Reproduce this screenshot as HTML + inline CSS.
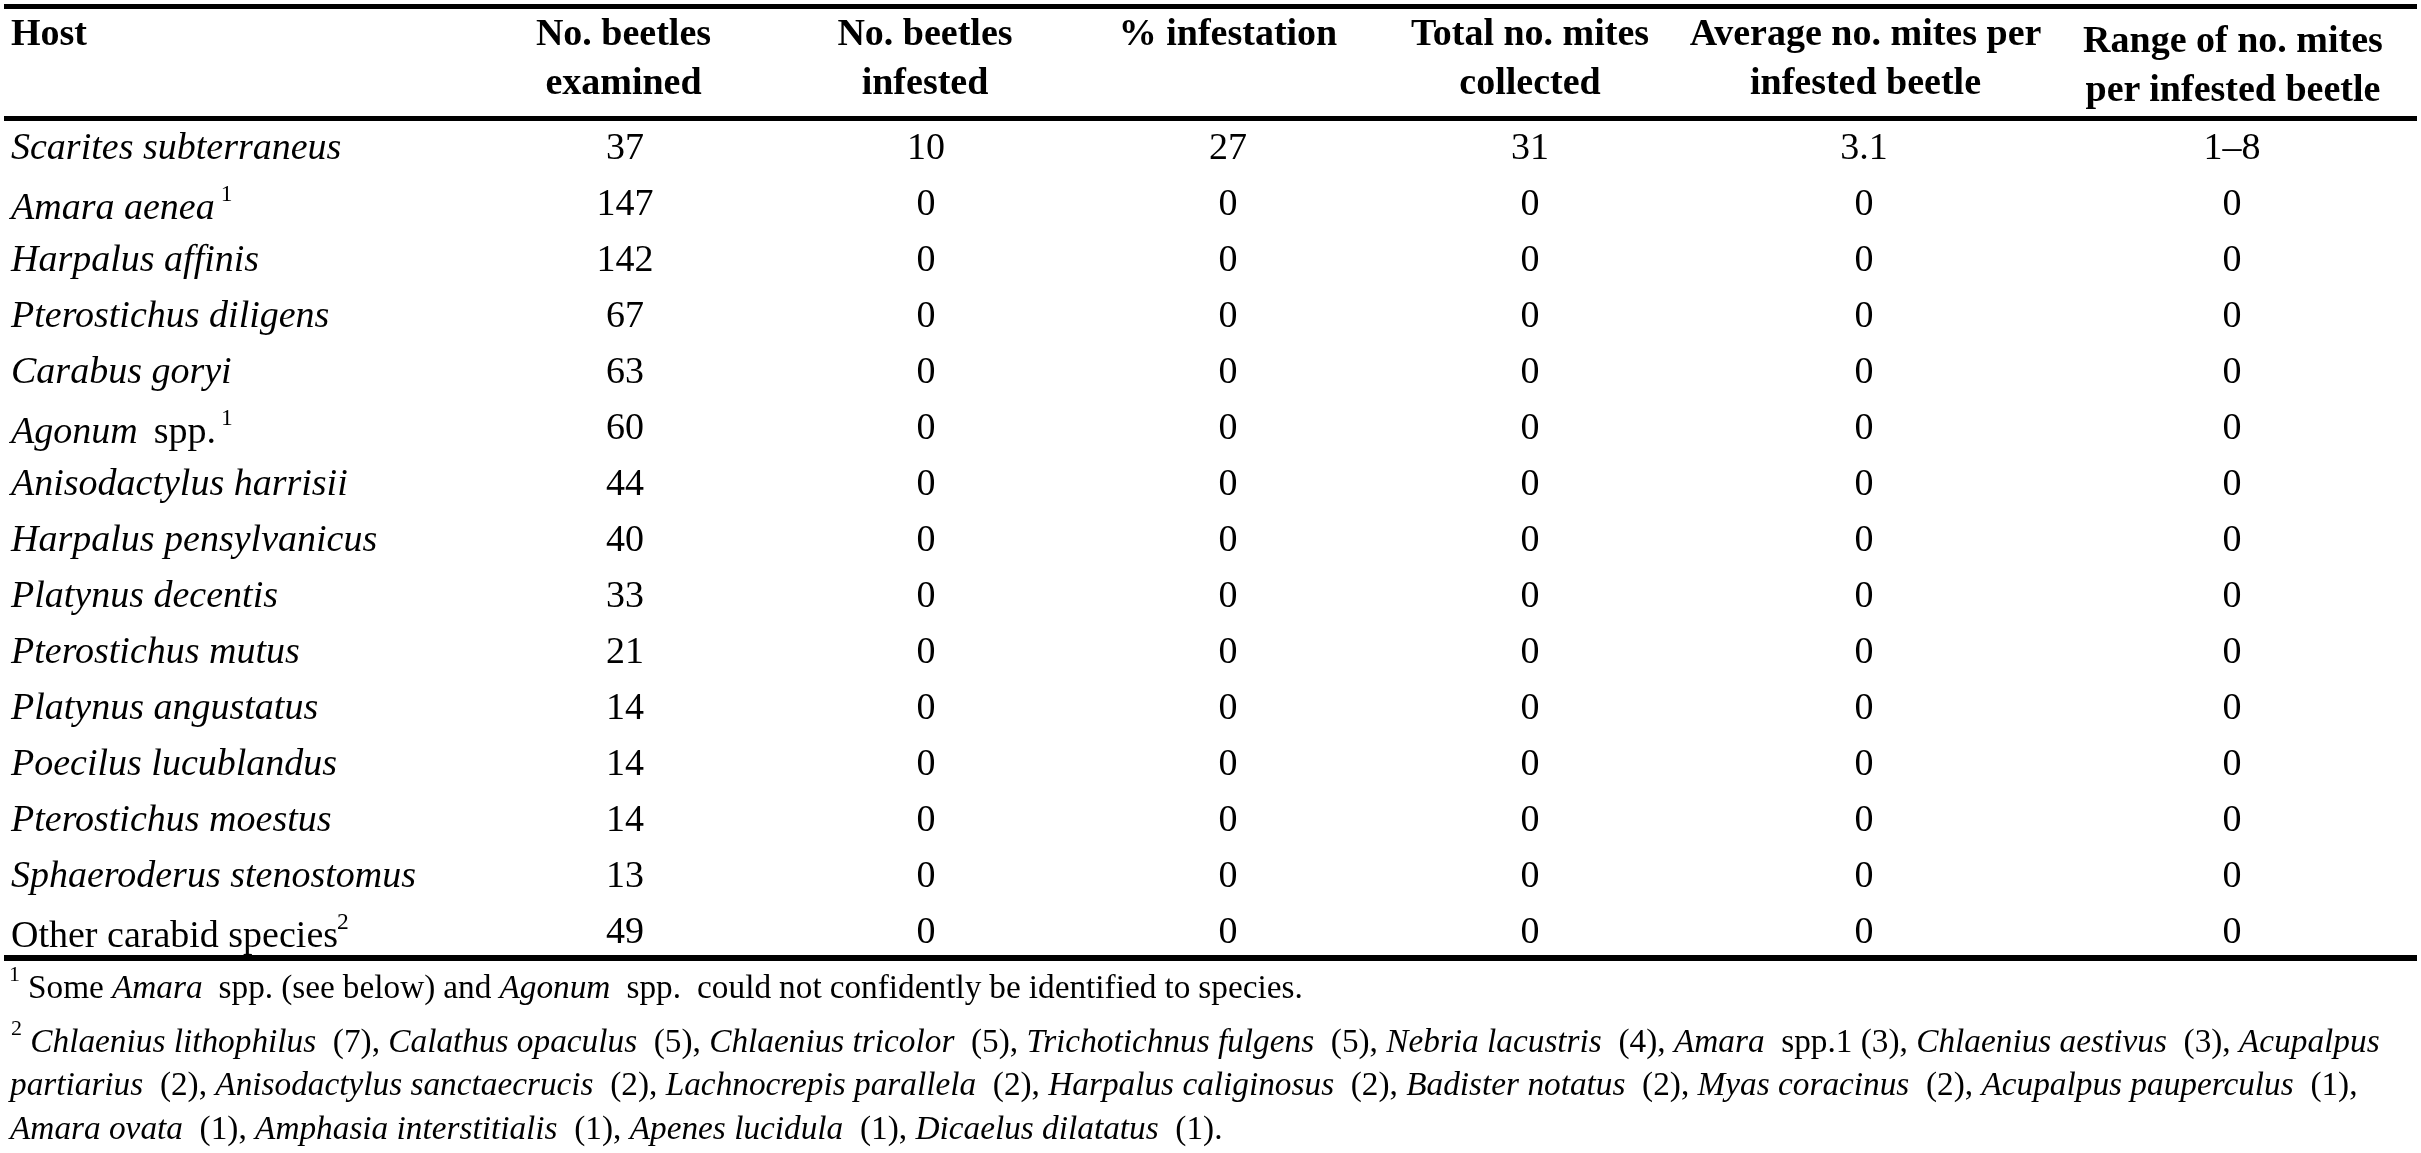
<!DOCTYPE html>
<html><head><meta charset="utf-8"><style>
html,body{margin:0;padding:0;background:#fff;}
body{width:2421px;height:1153px;overflow:hidden;position:relative;font-family:"Liberation Serif",serif;color:#000;}
.r{position:absolute;left:4px;width:2413px;height:5px;background:#000;}
.t{position:absolute;white-space:nowrap;line-height:0;height:0;}
.b{font-size:38.0px;}
.h{font-size:38.0px;font-weight:bold;}
.n{font-size:33.3px;}
.c{width:600px;text-align:center;}
.sp{font-size:23.5px;position:relative;top:-18px;}
.fs{font-size:22px;position:relative;top:-17px;}
#w{position:absolute;left:0;top:0;width:2421px;height:1153px;will-change:transform;}
</style></head><body><div id="w">
<div class="r" style="top:4px"></div>
<div class="r" style="top:116px"></div>
<div class="r" style="top:955px;height:6px"></div>

<div class="t h" style="left:11px;top:32px;">Host</div>
<div class="t h c" style="left:323.5px;top:32px;">No. beetles</div>
<div class="t h c" style="left:323.5px;top:81px;">examined</div>
<div class="t h c" style="left:625px;top:32px;">No. beetles</div>
<div class="t h c" style="left:625px;top:81px;">infested</div>
<div class="t h c" style="left:928px;top:32px;">% infestation</div>
<div class="t h c" style="left:1230px;top:32px;">Total no. mites</div>
<div class="t h c" style="left:1230px;top:81px;">collected</div>
<div class="t h c" style="left:1565.5px;top:32px;">Average no. mites per</div>
<div class="t h c" style="left:1565.5px;top:81px;">infested beetle</div>
<div class="t h c" style="left:1933px;top:39px;">Range of no. mites</div>
<div class="t h c" style="left:1933px;top:88px;">per infested beetle</div>
<div class="t b" style="left:11px;top:146px;"><i>Scarites subterraneus</i></div>
<div class="t b c" style="left:325px;top:146px;">37</div>
<div class="t b c" style="left:626px;top:146px;">10</div>
<div class="t b c" style="left:928px;top:146px;">27</div>
<div class="t b c" style="left:1230px;top:146px;">31</div>
<div class="t b c" style="left:1564px;top:146px;">3.1</div>
<div class="t b c" style="left:1932px;top:146px;">1&ndash;8</div>
<div class="t b" style="left:11px;top:206px;"><i>Amara aenea</i><span class=sp style='margin-left:6px'>1</span></div>
<div class="t b c" style="left:325px;top:202px;">147</div>
<div class="t b c" style="left:626px;top:202px;">0</div>
<div class="t b c" style="left:928px;top:202px;">0</div>
<div class="t b c" style="left:1230px;top:202px;">0</div>
<div class="t b c" style="left:1564px;top:202px;">0</div>
<div class="t b c" style="left:1932px;top:202px;">0</div>
<div class="t b" style="left:11px;top:258px;"><i>Harpalus affinis</i></div>
<div class="t b c" style="left:325px;top:258px;">142</div>
<div class="t b c" style="left:626px;top:258px;">0</div>
<div class="t b c" style="left:928px;top:258px;">0</div>
<div class="t b c" style="left:1230px;top:258px;">0</div>
<div class="t b c" style="left:1564px;top:258px;">0</div>
<div class="t b c" style="left:1932px;top:258px;">0</div>
<div class="t b" style="left:11px;top:314px;"><i>Pterostichus diligens</i></div>
<div class="t b c" style="left:325px;top:314px;">67</div>
<div class="t b c" style="left:626px;top:314px;">0</div>
<div class="t b c" style="left:928px;top:314px;">0</div>
<div class="t b c" style="left:1230px;top:314px;">0</div>
<div class="t b c" style="left:1564px;top:314px;">0</div>
<div class="t b c" style="left:1932px;top:314px;">0</div>
<div class="t b" style="left:11px;top:370px;"><i>Carabus goryi</i></div>
<div class="t b c" style="left:325px;top:370px;">63</div>
<div class="t b c" style="left:626px;top:370px;">0</div>
<div class="t b c" style="left:928px;top:370px;">0</div>
<div class="t b c" style="left:1230px;top:370px;">0</div>
<div class="t b c" style="left:1564px;top:370px;">0</div>
<div class="t b c" style="left:1932px;top:370px;">0</div>
<div class="t b" style="left:11px;top:430px;"><i>Agonum</i>&nbsp; <span style='margin-left:-3px'>spp.</span><span class=sp style='margin-left:5px'>1</span></div>
<div class="t b c" style="left:325px;top:426px;">60</div>
<div class="t b c" style="left:626px;top:426px;">0</div>
<div class="t b c" style="left:928px;top:426px;">0</div>
<div class="t b c" style="left:1230px;top:426px;">0</div>
<div class="t b c" style="left:1564px;top:426px;">0</div>
<div class="t b c" style="left:1932px;top:426px;">0</div>
<div class="t b" style="left:11px;top:482px;"><i>Anisodactylus harrisii</i></div>
<div class="t b c" style="left:325px;top:482px;">44</div>
<div class="t b c" style="left:626px;top:482px;">0</div>
<div class="t b c" style="left:928px;top:482px;">0</div>
<div class="t b c" style="left:1230px;top:482px;">0</div>
<div class="t b c" style="left:1564px;top:482px;">0</div>
<div class="t b c" style="left:1932px;top:482px;">0</div>
<div class="t b" style="left:11px;top:538px;"><i>Harpalus pensylvanicus</i></div>
<div class="t b c" style="left:325px;top:538px;">40</div>
<div class="t b c" style="left:626px;top:538px;">0</div>
<div class="t b c" style="left:928px;top:538px;">0</div>
<div class="t b c" style="left:1230px;top:538px;">0</div>
<div class="t b c" style="left:1564px;top:538px;">0</div>
<div class="t b c" style="left:1932px;top:538px;">0</div>
<div class="t b" style="left:11px;top:594px;"><i>Platynus decentis</i></div>
<div class="t b c" style="left:325px;top:594px;">33</div>
<div class="t b c" style="left:626px;top:594px;">0</div>
<div class="t b c" style="left:928px;top:594px;">0</div>
<div class="t b c" style="left:1230px;top:594px;">0</div>
<div class="t b c" style="left:1564px;top:594px;">0</div>
<div class="t b c" style="left:1932px;top:594px;">0</div>
<div class="t b" style="left:11px;top:650px;"><i>Pterostichus mutus</i></div>
<div class="t b c" style="left:325px;top:650px;">21</div>
<div class="t b c" style="left:626px;top:650px;">0</div>
<div class="t b c" style="left:928px;top:650px;">0</div>
<div class="t b c" style="left:1230px;top:650px;">0</div>
<div class="t b c" style="left:1564px;top:650px;">0</div>
<div class="t b c" style="left:1932px;top:650px;">0</div>
<div class="t b" style="left:11px;top:706px;"><i>Platynus angustatus</i></div>
<div class="t b c" style="left:325px;top:706px;">14</div>
<div class="t b c" style="left:626px;top:706px;">0</div>
<div class="t b c" style="left:928px;top:706px;">0</div>
<div class="t b c" style="left:1230px;top:706px;">0</div>
<div class="t b c" style="left:1564px;top:706px;">0</div>
<div class="t b c" style="left:1932px;top:706px;">0</div>
<div class="t b" style="left:11px;top:762px;"><i>Poecilus lucublandus</i></div>
<div class="t b c" style="left:325px;top:762px;">14</div>
<div class="t b c" style="left:626px;top:762px;">0</div>
<div class="t b c" style="left:928px;top:762px;">0</div>
<div class="t b c" style="left:1230px;top:762px;">0</div>
<div class="t b c" style="left:1564px;top:762px;">0</div>
<div class="t b c" style="left:1932px;top:762px;">0</div>
<div class="t b" style="left:11px;top:818px;"><i>Pterostichus moestus</i></div>
<div class="t b c" style="left:325px;top:818px;">14</div>
<div class="t b c" style="left:626px;top:818px;">0</div>
<div class="t b c" style="left:928px;top:818px;">0</div>
<div class="t b c" style="left:1230px;top:818px;">0</div>
<div class="t b c" style="left:1564px;top:818px;">0</div>
<div class="t b c" style="left:1932px;top:818px;">0</div>
<div class="t b" style="left:11px;top:874px;"><i>Sphaeroderus stenostomus</i></div>
<div class="t b c" style="left:325px;top:874px;">13</div>
<div class="t b c" style="left:626px;top:874px;">0</div>
<div class="t b c" style="left:928px;top:874px;">0</div>
<div class="t b c" style="left:1230px;top:874px;">0</div>
<div class="t b c" style="left:1564px;top:874px;">0</div>
<div class="t b c" style="left:1932px;top:874px;">0</div>
<div class="t b" style="left:11px;top:934px;">Other carabid species<span class=sp style='margin-left:-1px'>2</span></div>
<div class="t b c" style="left:325px;top:930px;">49</div>
<div class="t b c" style="left:626px;top:930px;">0</div>
<div class="t b c" style="left:928px;top:930px;">0</div>
<div class="t b c" style="left:1230px;top:930px;">0</div>
<div class="t b c" style="left:1564px;top:930px;">0</div>
<div class="t b c" style="left:1932px;top:930px;">0</div>
<div class="t n" style="left:9px;top:987px;word-spacing:-0.3px;"><span class=fs>1</span> Some <i>Amara</i>&nbsp; spp. (see below) and <i>Agonum</i>&nbsp; spp.&nbsp; could not confidently be identified to species.</div>
<div class="t n" style="left:11px;top:1041px;"><span class=fs>2</span> <i>Chlaenius lithophilus</i>&nbsp; (7), <i>Calathus opaculus</i>&nbsp; (5), <i>Chlaenius tricolor</i>&nbsp; (5), <i>Trichotichnus fulgens</i>&nbsp; (5), <i>Nebria lacustris</i>&nbsp; (4), <i>Amara</i>&nbsp; spp.1 (3), <i>Chlaenius aestivus</i>&nbsp; (3), <i>Acupalpus</i></div>
<div class="t n" style="left:10px;top:1084px;"><i>partiarius</i>&nbsp; (2), <i>Anisodactylus sanctaecrucis</i>&nbsp; (2), <i>Lachnocrepis parallela</i>&nbsp; (2), <i>Harpalus caliginosus</i>&nbsp; (2), <i>Badister notatus</i>&nbsp; (2), <i>Myas coracinus</i>&nbsp; (2), <i>Acupalpus pauperculus</i>&nbsp; (1),</div>
<div class="t n" style="left:10px;top:1128px;"><i>Amara ovata</i>&nbsp; (1), <i>Amphasia interstitialis</i>&nbsp; (1), <i>Apenes lucidula</i>&nbsp; (1), <i>Dicaelus dilatatus</i>&nbsp; (1).</div>
</div></body></html>
